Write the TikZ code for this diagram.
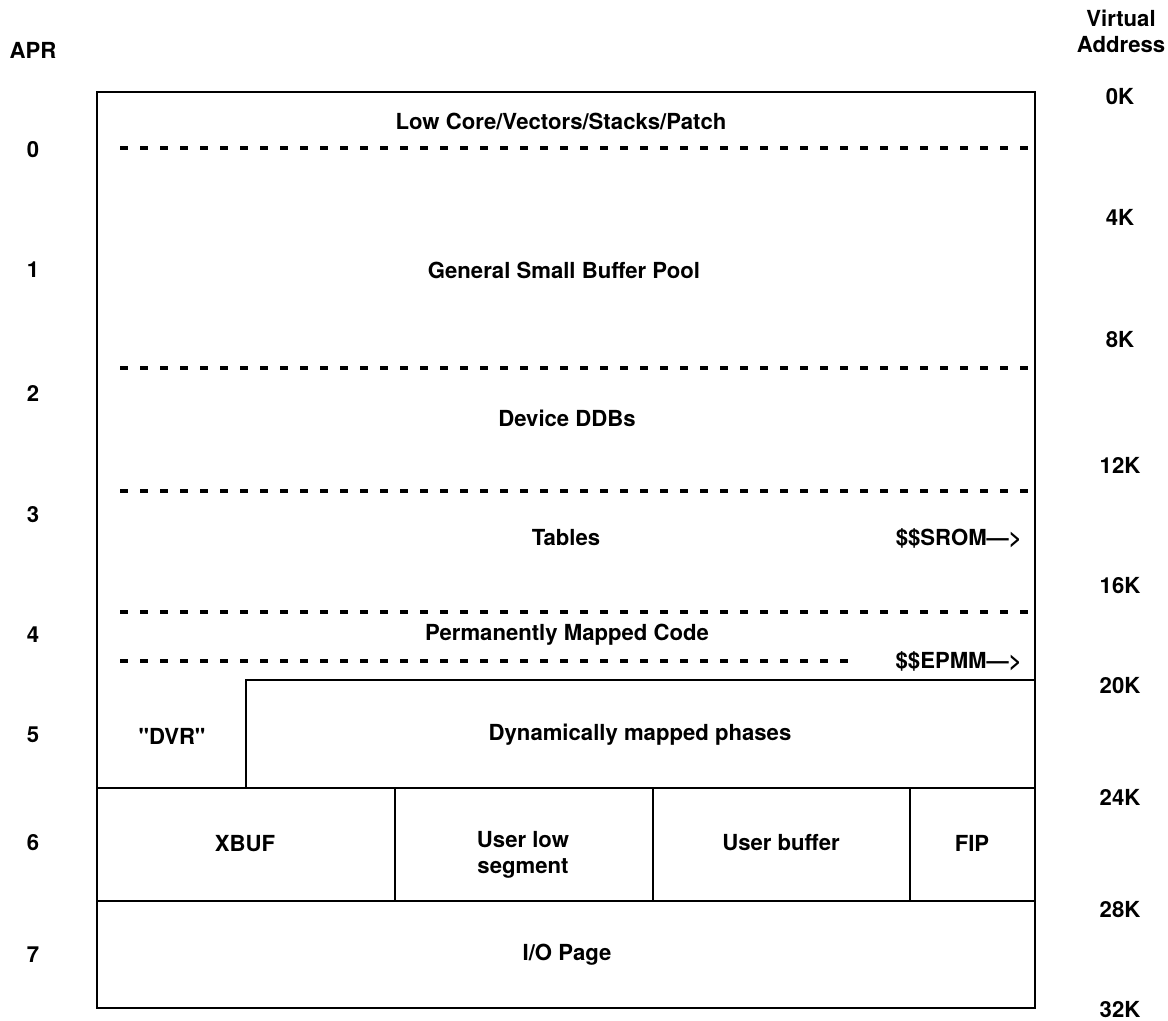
\documentclass[tikz,border=0pt]{standalone}
\usepackage{fontspec}
\setmainfont{TeX Gyre Heros}
\begin{document}
\begin{tikzpicture}[x=0.75pt,y=-0.75pt,
  lbl/.style={font=\fontsize{16.6}{19.5}\selectfont\bfseries, inner sep=0pt, align=center},
  solidline/.style={line width=1.8pt},
  dotline/.style={line width=2.4pt, dash pattern=on 6pt off 9pt}]
\useasboundingbox (0,0) rectangle (1168,1021);
% outer box
\draw[solidline] (97,92) rectangle (1035,1008);
% dotted separators
\draw[dotline] (120,148) -- (1030,148);
\draw[dotline] (120,368) -- (1030,368);
\draw[dotline] (120,491) -- (1030,491);
\draw[dotline] (120,612) -- (1030,612);
\draw[dotline] (120,661) -- (850,661);
% solid partitions
\draw[solidline] (246,788) -- (246,680) -- (1035,680);
\draw[solidline] (97,788) -- (1035,788);
\draw[solidline] (97,901) -- (1035,901);
\draw[solidline] (395,788) -- (395,901);
\draw[solidline] (653,788) -- (653,901);
\draw[solidline] (910,788) -- (910,901);
% left labels
\node[lbl] (apr) at (33,50) {APR};
\node[lbl] (a0) at (33,150) {0};
\node[lbl] (a1) at (33,270) {1};
\node[lbl] (a2) at (33,393) {2};
\node[lbl] (a3) at (33,515) {3};
\node[lbl] (a4) at (33,635) {4};
\node[lbl] (a5) at (33,735) {5};
\node[lbl] (a6) at (33,843) {6};
\node[lbl] (a7) at (33,955) {7};
% right labels
\node[lbl] (va) at (1121,31) {Virtual\\Address};
\node[lbl] (k0) at (1120,97) {0K};
\node[lbl] (k4) at (1120,217) {4K};
\node[lbl] (k8) at (1120,340) {8K};
\node[lbl] (k12) at (1120,465) {12K};
\node[lbl] (k16) at (1120,586) {16K};
\node[lbl] (k20) at (1120,686) {20K};
\node[lbl] (k24) at (1120,797) {24K};
\node[lbl] (k28) at (1120,910) {28K};
\node[lbl] (k32) at (1120,1010) {32K};
% region labels
\node[lbl] (low) at (561,121) {Low Core/Vectors/Stacks/Patch};
\node[lbl] (gsbp) at (564,270) {General Small Buffer Pool};
\node[lbl] (ddb) at (567,418) {Device DDBs};
\node[lbl] (tab) at (566,538) {Tables};
\node[lbl, anchor=east] (srom) at (1022,538) {\$\$SROM---{\textgreater}};
\node[lbl] (pmc) at (567,635) {Permanently Mapped Code};
\node[lbl, anchor=east] (epmm) at (1022,661) {\$\$EPMM---{\textgreater}};
\node[lbl] (dvr) at (172,736) {\textquotedbl DVR\textquotedbl};
\node[lbl] (dmp) at (640,735) {Dynamically mapped phases};
\node[lbl] (xbuf) at (245,844) {XBUF};
\node[lbl] (ulow) at (523,855) {User low\\segment};
\node[lbl] (ubuf) at (781,843) {User buffer};
\node[lbl] (fip) at (972,843) {FIP};
\node[lbl] (io) at (567,955) {I/O Page};
\end{tikzpicture}
\end{document}
